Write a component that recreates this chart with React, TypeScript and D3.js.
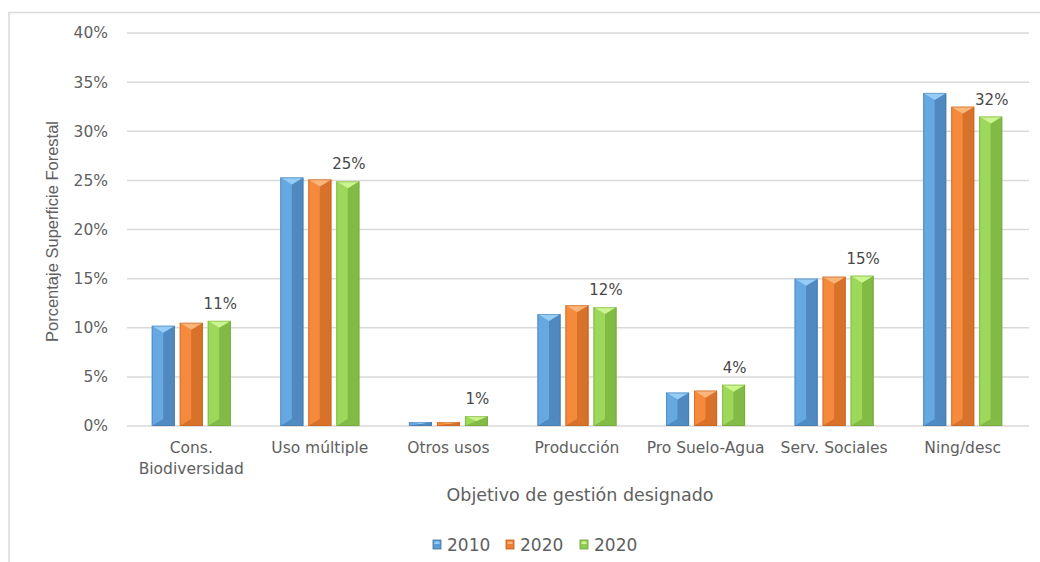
import React from 'react';
import * as d3 from 'd3';

const categories = [
  'Cons.\nBiodiversidad',
  'Uso múltiple',
  'Otros usos',
  'Producción',
  'Pro Suelo-Agua',
  'Serv. Sociales',
  'Ning/desc',
];
const seriesNames = ['2010', '2020', '2020'];
const values2010 = [10.2, 25.3, 0.4, 11.4, 3.4, 15.0, 33.9];
const values2020a = [10.5, 25.1, 0.4, 12.3, 3.6, 15.2, 32.5];
const values2020b = [10.7, 24.9, 1.0, 12.1, 4.2, 15.3, 31.5];
const yTicks = [0, 5, 10, 15, 20, 25, 30, 35, 40];

const seriesValues = [values2010, values2020a, values2020b];
const palette = [
  { main: '#5B9BD5', light: '#66A8E2', dark: '#5089C0', top: '#95CDF8', bottom: '#4F8CC4', edge: '#41719C' },
  { main: '#ED7D31', light: '#F58A3C', dark: '#D8712A', top: '#F9B57A', bottom: '#D8712A', edge: '#B85C1E' },
  { main: '#8FCB4F', light: '#9DD85A', dark: '#82BA46', top: '#CBF590', bottom: '#83BB47', edge: '#6C9D37' },
];

const W = 1040;
const H = 562;
const plot = { left: 127, right: 1027, top: 33, bottom: 426 };
const font = 'DejaVu Sans, Verdana, sans-serif';
const textColor = '#606060';

const x0 = d3.scaleBand<string>()
  .domain(categories)
  .range([plot.left, plot.right])
  .paddingInner(0.3856)
  .paddingOuter(0.1928);

const x1 = d3.scaleBand<number>()
  .domain([0, 1, 2])
  .range([0, x0.bandwidth()])
  .paddingInner(5 / 28);

const y = d3.scaleLinear().domain([0, 40]).range([plot.bottom, plot.top]);

const Bar = ({ x, w, v, c }: { x: number; w: number; v: number; c: typeof palette[0] }) => {
  const yt = y(v);
  const yb = y(0);
  const h = yb - yt;
  const b = Math.min(7, w / 2, h / 2);
  const x2 = x + w;
  const xm = x + w / 2;
  const pts = (p: number[][]) => p.map(q => q.join(',')).join(' ');
  return (
    <g>
      <rect x={x} y={yt} width={w} height={h} fill={c.main} />
      <polygon points={pts([[x, yt], [xm, yt + b], [xm, yb - b], [x, yb]])} fill={c.light} />
      <polygon points={pts([[x2, yt], [xm, yt + b], [xm, yb - b], [x2, yb]])} fill={c.dark} />
      <polygon points={pts([[x, yt], [x2, yt], [xm, yt + b]])} fill={c.top} />
      <polygon points={pts([[x, yb], [x2, yb], [xm, yb - b]])} fill={c.bottom} />
      <rect x={x + 0.5} y={yt + 0.5} width={w - 1} height={h - 1} fill="none" stroke={c.edge} strokeOpacity={0.45} />
    </g>
  );
};

export default function App() {
  const legendX = [433, 506, 580];
  return (
    <svg width={W} height={H} style={{ position: 'absolute', left: 0, top: 0, background: '#fff' }}>
      <rect x={9} y={12.5} width={W + 10} height={H + 10} fill="#fff" stroke="#D9D9D9" strokeWidth={1.5} />
      {yTicks.map(t => (
        <g key={t}>
          <line x1={plot.left} x2={plot.right + 2} y1={y(t)} y2={y(t)} stroke="#D9D9D9" strokeWidth={1.5} />
          <text x={108} y={y(t)} dy="0.35em" textAnchor="end" fontFamily={font} fontSize={15.5} fill={textColor}>
            {t}%
          </text>
        </g>
      ))}
      <text
        transform={`translate(58, ${(plot.top + plot.bottom) / 2 + 2}) rotate(-90)`}
        textAnchor="middle"
        fontFamily="Liberation Sans Narrow, Arial Narrow, sans-serif"
        fontSize={16.5}
        fill={textColor}
      >
        Porcentaje Superficie Forestal
      </text>
      {categories.map((cat, ci) => {
        const gx = x0(cat)!;
        return (
          <g key={cat}>
            {seriesValues.map((vals, si) => (
              <Bar key={si} x={gx + x1(si)!} w={x1.bandwidth()} v={vals[ci]} c={palette[si]} />
            ))}
            <text
              x={gx + x1(2)! + x1.bandwidth() / 2 + 1}
              y={y(values2020b[ci]) - 12}
              textAnchor="middle"
              fontFamily={font}
              fontSize={15}
              fill="#484848"
            >
              {d3.format('.0f')(values2020b[ci])}%
            </text>
            {cat.split('\n').map((line, li) => (
              <text
                key={li}
                x={gx + x0.bandwidth() / 2}
                y={453 + li * 21}
                textAnchor="middle"
                fontFamily={font}
                fontSize={15.5}
                fill={textColor}
              >
                {line}
              </text>
            ))}
          </g>
        );
      })}
      <text x={580} y={501} textAnchor="middle" fontFamily={font} fontSize={17.5} fill={textColor}>
        Objetivo de gestión designado
      </text>
      {seriesNames.map((s, i) => (
        <g key={i}>
          <rect x={legendX[i]} y={540} width={8} height={9} fill={palette[i].main} stroke={palette[i].edge} strokeWidth={0.8} />
          <rect x={legendX[i] + 1.5} y={541.5} width={5} height={2.5} fill={palette[i].top} />
          <text x={legendX[i] + 14} y={551} fontFamily={font} fontSize={17} fill={textColor}>
            {s}
          </text>
        </g>
      ))}
    </svg>
  );
}
